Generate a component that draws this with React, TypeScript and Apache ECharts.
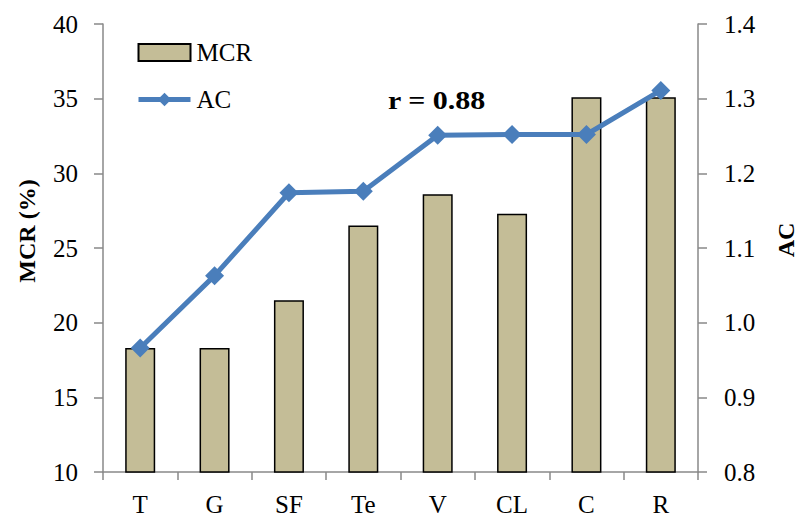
import React, { useEffect, useRef } from "react";
import * as echarts from "echarts";

const categories = ["T", "G", "SF", "Te", "V", "CL", "C", "R"];
const mcrValues = [18.3, 18.3, 21.5, 26.5, 28.6, 27.3, 35.1, 35.1];
const acValues = [0.966, 1.063, 1.174, 1.176, 1.251, 1.252, 1.252, 1.311];
const leftTicks = { min: 10, max: 40, interval: 5 };
const rightTicks = { min: 0.8, max: 1.4, interval: 0.1 };

const FONT = "'Liberation Serif', 'Times New Roman', serif";
const AXIS_GRAY = "#898989";
const FS = 25;

export default function App() {
  const ref = useRef<HTMLDivElement>(null);
  useEffect(() => {
    if (!ref.current) return;
    const chart = echarts.init(ref.current, null, { renderer: "svg" });
    chart.setOption({
      animation: false,
      backgroundColor: "#ffffff",
      textStyle: { fontFamily: FONT },
      grid: { left: 103, right: 103, top: 24, bottom: 46, containLabel: false },
      legend: {
        left: 131,
        top: 35,
        orient: "vertical",
        itemWidth: 52,
        itemHeight: 17,
        itemGap: 22,
        lineStyle: { width: 5 },
        textStyle: { fontFamily: FONT, fontSize: FS, color: "#000", padding: [0, 0, 0, 1] },
        data: [
          { name: "MCR", icon: "rect" },
          { name: "AC" },
        ],
      },
      xAxis: {
        type: "category",
        data: categories,
        boundaryGap: true,
        axisLine: { lineStyle: { color: AXIS_GRAY, width: 1.5 } },
        axisTick: { show: true, length: 8, alignWithLabel: false, lineStyle: { color: AXIS_GRAY, width: 1.5 } },
        axisLabel: { color: "#000", fontSize: FS, fontFamily: FONT, margin: 20 },
        splitLine: { show: false },
      },
      yAxis: [
        {
          type: "value",
          min: leftTicks.min,
          max: leftTicks.max,
          interval: leftTicks.interval,
          position: "left",
          axisLine: { show: true, lineStyle: { color: AXIS_GRAY, width: 1.5 } },
          axisTick: { show: true, length: 9, lineStyle: { color: AXIS_GRAY, width: 1.5 } },
          axisLabel: { color: "#000", fontSize: FS, fontFamily: FONT, margin: 25 },
          splitLine: { show: false },
        },
        {
          type: "value",
          min: rightTicks.min,
          max: rightTicks.max,
          interval: rightTicks.interval,
          position: "right",
          axisLine: { show: true, lineStyle: { color: AXIS_GRAY, width: 1.5 } },
          axisTick: { show: true, length: 9, lineStyle: { color: AXIS_GRAY, width: 1.5 } },
          axisLabel: {
            color: "#000",
            fontSize: FS,
            fontFamily: FONT,
            margin: 26,
            formatter: (v: number) => v.toFixed(1),
          },
          splitLine: { show: false },
        },
      ],
      series: [
        {
          name: "MCR",
          type: "bar",
          yAxisIndex: 0,
          data: mcrValues,
          barWidth: 30,
          itemStyle: { color: "#C4BD97", borderColor: "#000", borderWidth: 1.5 },
          z: 2,
        },
        {
          name: "AC",
          type: "line",
          yAxisIndex: 1,
          data: acValues,
          symbol: "diamond",
          symbolSize: 19,
          lineStyle: { color: "#4A7EBB", width: 5 },
          itemStyle: { color: "#4A7EBB" },
          z: 3,
        },
      ],
      graphic: [
        {
          type: "text",
          x: 27,
          y: 231,
          rotation: Math.PI / 2,
          style: {
            text: "MCR (%)",
            font: `bold 24px ${FONT}`,
            fill: "#000",
            align: "center",
            verticalAlign: "middle",
          },
        },
        {
          type: "text",
          x: 786,
          y: 240,
          rotation: Math.PI / 2,
          style: {
            text: "AC",
            font: `bold 24px ${FONT}`,
            fill: "#000",
            align: "center",
            verticalAlign: "middle",
          },
        },
        {
          type: "text",
          x: 388,
          y: 100,
          scaleX: 1.2,
          style: {
            text: "r = 0.88",
            font: `bold 25px ${FONT}`,
            fill: "#000",
            align: "left",
            verticalAlign: "middle",
          },
        },
      ],
    });
    return () => chart.dispose();
  }, []);
  return (
    <div
      ref={ref}
      style={{ position: "absolute", left: 0, top: 0, width: 801, height: 518 }}
    />
  );
}
